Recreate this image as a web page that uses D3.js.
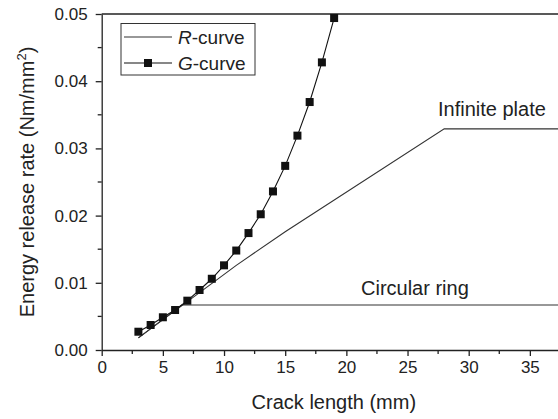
<!DOCTYPE html>
<html><head><meta charset="utf-8">
<script src="https://cdn.jsdelivr.net/npm/d3@7"></script>
<style>
body{margin:0;background:#fff;}
svg text{font-family:Arial,"Liberation Sans",sans-serif;fill:#222;}
</style></head>
<body><svg id="c" width="558" height="419"></svg>
<script>
// Data
const gCrack = [3,4,5,6,7,8,9,10,11,12,13,14,15,16,17,18,19];
const gEnergy = [0.00272,0.00372,0.00487,0.00595,0.00734,0.00893,0.0106,0.0126,0.0148,0.0174,0.0202,0.0236,0.0274,0.0319,0.0369,0.0428,0.0494];
const plateCrack = [3,11,15,28,37.3];
const plateEnergy = [0.0018,0.0126,0.0176,0.0329,0.0329];
const ringCrack = [3,6.55,37.3];
const ringEnergy = [0.0018,0.0067,0.0067];
const xTicks = [0,5,10,15,20,25,30,35];
const yTicks = [0.00,0.01,0.02,0.03,0.04,0.05];

const svg = d3.select("#c");
const x = d3.scaleLinear().domain([0,37.3]).range([101.7,558]);
const y = d3.scaleLinear().domain([0,0.05]).range([350,14]);

// axes
const xAxis = d3.axisBottom(x).tickValues(xTicks).tickFormat(d3.format("d")).tickSizeInner(6).tickSizeOuter(0).tickPadding(5);
const gx = svg.append("g").attr("transform","translate(0,350)").call(xAxis);
const xMinor = d3.range(2.5,37.3,5);
gx.selectAll(".minor").data(xMinor).enter().append("line").attr("class","minor")
  .attr("x1",d=>x(d)).attr("x2",d=>x(d)).attr("y1",0).attr("y2",4);
const yAxis = d3.axisLeft(y).tickValues(yTicks).tickFormat(d3.format(".2f")).tickSizeInner(6).tickSizeOuter(0).tickPadding(8);
const gy = svg.append("g").attr("transform","translate(101.7,0)").call(yAxis);
const yMinor = [0.005,0.015,0.025,0.035,0.045];
gy.selectAll(".minor").data(yMinor).enter().append("line").attr("class","minor")
  .attr("x1",0).attr("x2",-4).attr("y1",d=>y(d)).attr("y2",d=>y(d));
[gx,gy].forEach(g=>{
  g.selectAll("path,line").attr("stroke","#222").attr("stroke-width",1.3);
  g.selectAll("text").attr("font-size",17).attr("fill","#222").attr("font-family",'Arial,"Liberation Sans",sans-serif');
});
// top border
svg.append("line").attr("x1",x(0)).attr("x2",558).attr("y1",y(0.05)).attr("y2",y(0.05)).attr("stroke","#222").attr("stroke-width",1.3);

// axis titles
svg.append("text").attr("x",(x(0)+558)/2+4).attr("y",409).attr("text-anchor","middle").attr("font-size",20).text("Crack length (mm)");
const yt = svg.append("text").attr("transform","translate(34,182) rotate(-90)").attr("text-anchor","middle").attr("font-size",20);
yt.append("tspan").text("Energy release rate (Nm/mm");
yt.append("tspan").attr("font-size",13).attr("dy",-8).text("2");
yt.append("tspan").attr("dy",8).text(")");

const line = d3.line().x(d=>x(d[0])).y(d=>y(d[1]));
// R-curves
svg.append("path").datum(plateCrack.map((c,i)=>[c,plateEnergy[i]])).attr("d",line).attr("fill","none").attr("stroke","#333").attr("stroke-width",1.1);
svg.append("path").datum(ringCrack.map((c,i)=>[c,ringEnergy[i]])).attr("d",line).attr("fill","none").attr("stroke","#333").attr("stroke-width",1.1);
// G-curve
const gData = gCrack.map((c,i)=>[c,gEnergy[i]]);
svg.append("path").datum(gData).attr("d",line.curve(d3.curveLinear)).attr("fill","none").attr("stroke","#111").attr("stroke-width",1.1);
svg.selectAll(".sq").data(gData).enter().append("rect").attr("class","sq")
  .attr("x",d=>x(d[0])-4).attr("y",d=>y(d[1])-4).attr("width",8).attr("height",8).attr("fill","#111");

// annotations
svg.append("text").attr("x",438).attr("y",116).attr("font-size",20).text("Infinite plate");
svg.append("text").attr("x",361).attr("y",295).attr("font-size",20).text("Circular ring");

// legend
const lg = svg.append("g");
lg.append("rect").attr("x",121).attr("y",23.5).attr("width",134).attr("height",51.5).attr("fill","#fff").attr("stroke","#333").attr("stroke-width",1);
lg.append("line").attr("x1",124).attr("x2",172).attr("y1",37).attr("y2",37).attr("stroke","#333").attr("stroke-width",1.1);
lg.append("line").attr("x1",124).attr("x2",172).attr("y1",63).attr("y2",63).attr("stroke","#111").attr("stroke-width",1.1);
lg.append("rect").attr("x",144).attr("y",59).attr("width",8).attr("height",8).attr("fill","#111");
const t1 = lg.append("text").attr("x",178).attr("y",44).attr("font-size",19);
t1.append("tspan").attr("font-style","italic").text("R");
t1.append("tspan").text("-curve");
const t2 = lg.append("text").attr("x",178).attr("y",70).attr("font-size",19);
t2.append("tspan").attr("font-style","italic").text("G");
t2.append("tspan").text("-curve");
</script></body></html>
